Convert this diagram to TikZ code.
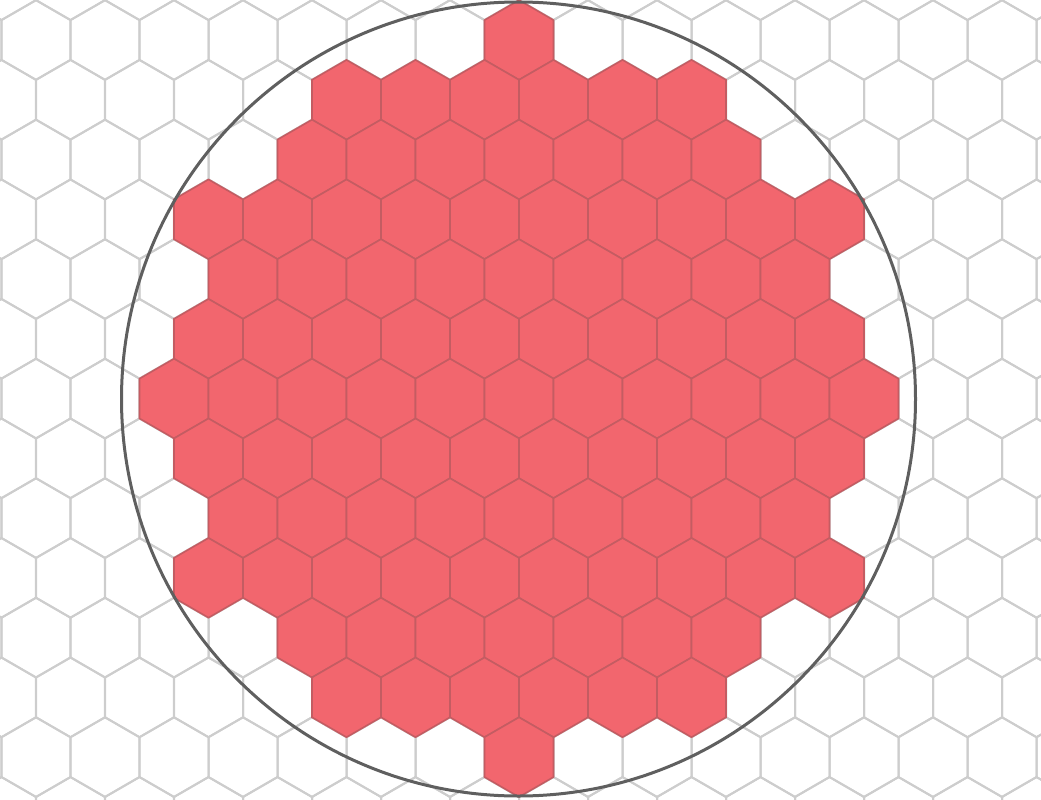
\documentclass[tikz,border=0pt]{standalone}
\definecolor{gridgray}{RGB}{205,205,205}
\definecolor{hexred}{RGB}{242,102,110}
\definecolor{hexedge}{RGB}{196,92,98}
\definecolor{ringgray}{RGB}{95,95,95}
\begin{document}
\begin{tikzpicture}[x=1pt,y=1pt,
  gridhex/.style={draw=gridgray,line width=2},
  redhex/.style={fill=hexred,draw=hexedge,line width=1.6},
  ring/.style={draw=ringgray,line width=3},
  hexshape/.pic={\path[pic actions] (30:39.84) -- (90:39.84) -- (150:39.84) -- (210:39.84) -- (270:39.84) -- (330:39.84) -- cycle;}]
\useasboundingbox (0,0) rectangle (1041,-800);
\begin{scope}
\clip (0,0) rectangle (1041,-800);
% background grid
\foreach \r in {-1,...,14}{
  \pgfmathsetmacro\xo{mod(\r,2)==0 ? 0 : 34.5}
  \foreach \k in {-9,...,8}{
    \pic[gridhex] at ({519+\xo+69*\k},{-40-59.76*\r}) {hexshape};
  }
}
% red hexes
\foreach \r/\x/\n in {0/519/0, 1/346.5/5, 2/312/6, 3/208.5/9, 4/243/8, 5/208.5/9, 6/174/10, 7/208.5/9, 8/243/8, 9/208.5/9, 10/312/6, 11/346.5/5, 12/519/0}{
  \foreach \i in {0,...,\n}{
    \pic[redhex] at ({\x+69*\i},{-40-59.76*\r}) {hexshape};
  }
}
% circle
\node[circle,ring,minimum size=794pt,inner sep=0pt] (ringnode) at (518.5,-399) {};
\end{scope}
\end{tikzpicture}
\end{document}
